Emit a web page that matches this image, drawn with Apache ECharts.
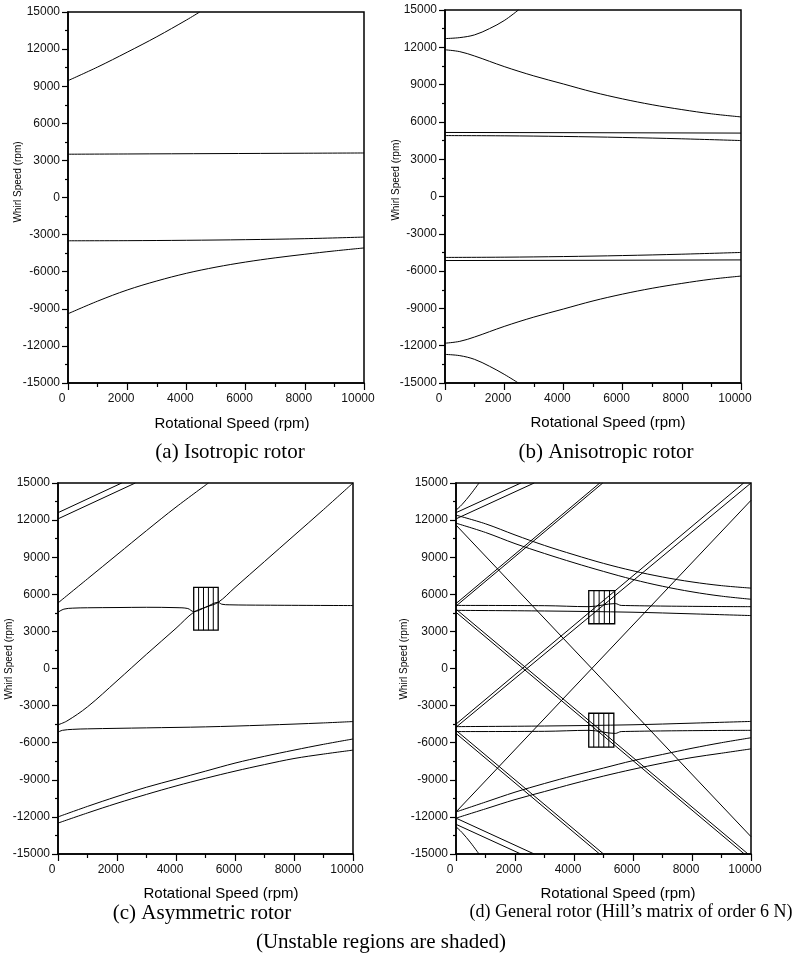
<!DOCTYPE html>
<html><head><meta charset="utf-8">
<script src="https://cdn.jsdelivr.net/npm/echarts@6/dist/echarts.min.js"></script>
<style>html,body{margin:0;padding:0;background:#fff}#c{width:793px;height:960px}</style>
</head><body><div id="c"></div>
<script>
// ---- axis ticks ----
const xTicks = [0, 2000, 4000, 6000, 8000, 10000];
const yTicks = [-15000, -12000, -9000, -6000, -3000, 0, 3000, 6000, 9000, 12000, 15000];

// ---- (a) Isotropic rotor ----
const aFwd2 = [[0,9450],[1000,10550],[2000,11750],[3000,13000],[4000,14350],[4450,15000]];
const aFwd1 = [[0,3500],[2000,3520],[5000,3550],[8000,3580],[10000,3600]];
const aBwd1 = [[0,-3500],[2000,-3490],[4000,-3460],[6000,-3410],[8000,-3330],[10000,-3200]];
const aBwd2 = [[0,-9400],[1000,-8380],[2000,-7480],[3000,-6750],[4000,-6130],[5000,-5630],[6000,-5220],[7000,-4880],[8000,-4590],[9000,-4320],[10000,-4080]];

// ---- (b) Anisotropic rotor ----
const bTop = [[0,12700],[500,12780],[1000,13000],[1500,13500],[2000,14150],[2480,15000]];
const bHigh = [[0,11800],[500,11650],[1000,11300],[2000,10450],[3000,9700],[4000,9050],[5000,8400],[6000,7850],[7000,7380],[8000,6990],[9000,6650],[10000,6400]];
const bFlatU = [[0,5150],[5000,5130],[10000,5100]];
const bFlatL = [[0,4900],[2000,4880],[4000,4830],[6000,4750],[8000,4640],[10000,4500]];
const bFlatUn = [[0,-4900],[2000,-4880],[4000,-4830],[6000,-4750],[8000,-4640],[10000,-4500]];
const bFlatLn = [[0,-5150],[5000,-5130],[10000,-5100]];
const bLowN = [[0,-11800],[500,-11650],[1000,-11300],[2000,-10450],[3000,-9700],[4000,-9050],[5000,-8400],[6000,-7850],[7000,-7380],[8000,-6990],[9000,-6650],[10000,-6400]];
const bBot = [[0,-12700],[500,-12800],[1000,-13100],[1500,-13650],[2000,-14300],[2480,-15000]];

// ---- (c) Asymmetric rotor ----
const cTop1 = [[0,12600],[2160,15000]];
const cTop2 = [[0,12100],[2620,15000]];
const cRise = [[0,5300],[1000,7250],[2000,9200],[3000,11150],[4000,13050],[5100,15000]];
const cDiag = [[0,-4550],[300,-4250],[1000,-3100],[2000,-1000],[3000,1150],[4000,3250],[4600,4550],[5000,4950],[5430,5350],[6000,6550],[7000,8650],[8000,10750],[9000,12850],[10000,15000]];
const cFlat = [[0,4550],[200,4800],[500,4880],[1000,4910],[2000,4930],[3000,4950],[4000,4920],[4400,4850],[4600,4600],[5000,4950],[5430,5350],[5550,5200],[5800,5150],[7000,5120],[10000,5090]];
const cBwd = [[0,-5150],[150,-5000],[500,-4920],[1000,-4880],[3000,-4800],[5000,-4720],[7000,-4580],[9000,-4400],[10000,-4290]];
const cLow1 = [[0,-12000],[1000,-11150],[2000,-10350],[3000,-9600],[4000,-8950],[5000,-8300],[6000,-7650],[7000,-7100],[8000,-6600],[9000,-6130],[10000,-5700]];
const cLow2 = [[0,-12500],[1000,-11680],[2000,-10900],[3000,-10180],[4000,-9500],[5000,-8880],[6000,-8300],[7000,-7770],[8000,-7280],[9000,-6920],[10000,-6600]];
const cUnstable = [[4600,5430,3100,6560,5]];

// ---- (d) General rotor ----
const dSteepUp = [[0,12800],[200,13250],[500,14100],[780,15000]];
const dUp1 = [[0,12600],[2200,15000]];
const dUp2 = [[0,12100],[2650,15000]];
const dDesc1 = [[0,12400],[1000,11700],[2000,10800],[3000,9950],[4000,9200],[5000,8500],[6000,7900],[7000,7400],[8000,7000],[9000,6700],[10000,6500]];
const dDesc2 = [[0,11750],[1000,11000],[2000,10100],[3000,9300],[4000,8550],[5000,7850],[6000,7200],[7000,6650],[8000,6200],[9000,5850],[10000,5600]];
const dLineDown = [[0,11600],[10000,-13600]];
const dLineUp = [[0,-11600],[10000,13600]];
const dRiseA = [[0,5250],[4875,15000]];
const dRiseB = [[0,5050],[4975,15000]];
const dDiagA = [[0,-4500],[9750,15000]];
const dDiagB = [[0,-4750],[10000,15000]];
const dFallA = [[0,4800],[9900,-15000]];
const dFallB = [[0,4550],[9775,-15000]];
const dFallC = [[0,-5000],[5000,-15000]];
const dFallD = [[0,-5250],[4870,-15000]];
const dSteepDn = [[0,-12800],[200,-13250],[500,-14100],[780,-15000]];
const dDn1 = [[0,-12600],[2200,-15000]];
const dDn2 = [[0,-12100],[2650,-15000]];
const dLow1 = [[0,-11600],[1000,-10800],[2000,-10000],[3000,-9300],[4000,-8650],[5000,-8050],[6000,-7450],[7000,-6950],[8000,-6450],[9000,-6000],[10000,-5600]];
const dLow2 = [[0,-12100],[1000,-11350],[2000,-10600],[3000,-9950],[4000,-9300],[5000,-8700],[6000,-8150],[7000,-7650],[8000,-7200],[9000,-6850],[10000,-6500]];
const dFlat1 = [[0,5100],[3000,5080],[4500,5000],[5400,5250],[5600,5100],[10000,5000]];
const dFlat2 = [[0,4700],[3000,4650],[6000,4550],[8000,4420],[10000,4280]];
const dFlat3 = [[0,-4700],[3000,-4650],[6000,-4550],[8000,-4420],[10000,-4280]];
const dFlat4 = [[0,-5100],[3000,-5080],[4500,-5000],[5400,-5250],[5600,-5100],[10000,-5000]];
const dUnstable = [[4500,5380,3620,6300,5],[4500,5350,-6360,-3620,5]];

const panels = [
  {grid:{left:68,top:12,width:296,height:371}, curves:[aFwd2,aFwd1,aBwd1,aBwd2], boxes:[]},
  {grid:{left:445,top:10,width:296,height:373}, curves:[bTop,bHigh,bFlatU,bFlatL,bFlatUn,bFlatLn,bLowN,bBot], boxes:[]},
  {grid:{left:58,top:483,width:295,height:371}, curves:[cTop1,cTop2,cRise,cDiag,cFlat,cBwd,cLow1,cLow2], boxes:cUnstable},
  {grid:{left:456,top:483,width:295,height:371}, curves:[dSteepUp,dUp1,dUp2,dDesc1,dDesc2,dLineDown,dLineUp,dRiseA,dRiseB,dDiagA,dDiagB,dFallA,dFallB,dFallC,dFallD,dSteepDn,dDn1,dDn2,dLow1,dLow2,dFlat1,dFlat2,dFlat3,dFlat4], boxes:dUnstable}
];

const texts = [
  {t:'Rotational Speed (rpm)', x:232, y:424, f:'15px "Liberation Sans", Arial, sans-serif'},
  {t:'Rotational Speed (rpm)', x:608, y:423, f:'15px "Liberation Sans", Arial, sans-serif'},
  {t:'Rotational Speed (rpm)', x:221, y:894, f:'15px "Liberation Sans", Arial, sans-serif'},
  {t:'Rotational Speed (rpm)', x:618, y:894, f:'15px "Liberation Sans", Arial, sans-serif'},
  {t:'Whirl Speed (rpm)', x:18, y:182, f:'10px "Liberation Sans", Arial, sans-serif', r:true},
  {t:'Whirl Speed (rpm)', x:396, y:180, f:'10px "Liberation Sans", Arial, sans-serif', r:true},
  {t:'Whirl Speed (rpm)', x:9, y:659, f:'10px "Liberation Sans", Arial, sans-serif', r:true},
  {t:'Whirl Speed (rpm)', x:404, y:659, f:'10px "Liberation Sans", Arial, sans-serif', r:true},
  {t:'(a) Isotropic rotor', x:230, y:452, f:'21px "Liberation Serif", "Times New Roman", serif'},
  {t:'(b) Anisotropic rotor', x:606, y:452, f:'21px "Liberation Serif", "Times New Roman", serif'},
  {t:'(c) Asymmetric rotor', x:202, y:913, f:'21px "Liberation Serif", "Times New Roman", serif'},
  {t:'(d) General rotor (Hill\u2019s matrix of order 6 N)', x:631, y:912, f:'18px "Liberation Serif", "Times New Roman", serif'},
  {t:'(Unstable regions are shaded)', x:381, y:942, f:'21px "Liberation Serif", "Times New Roman", serif'}
];

const grids = [], xAxes = [], yAxes = [], series = [];
panels.forEach((p, i) => {
  grids.push(Object.assign({show:true, borderColor:'#000', borderWidth:1.5, backgroundColor:'transparent', outerBoundsMode:'none', containLabel:false}, p.grid));
  xAxes.push({
    type:'value', gridIndex:i, min:xTicks[0], max:xTicks[xTicks.length-1], interval:xTicks[1]-xTicks[0],
    axisLine:{show:true, onZero:false, lineStyle:{color:'#000', width:1.6}},
    axisTick:{show:true, length:7, lineStyle:{color:'#000', width:1.2}},
    minorTick:{show:true, splitNumber:2, length:4, lineStyle:{color:'#000', width:1.2}},
    splitLine:{show:false},
    axisLabel:{fontSize:12, fontFamily:'"Liberation Sans", Arial, sans-serif', color:'#111', margin:10, padding:[0,12,0,0], formatter:v=>String(v)}
  });
  yAxes.push({
    type:'value', gridIndex:i, min:yTicks[0], max:yTicks[yTicks.length-1], interval:yTicks[1]-yTicks[0],
    axisLine:{show:true, onZero:false, lineStyle:{color:'#000', width:1.6}},
    axisTick:{show:true, length:6, lineStyle:{color:'#000', width:1.2}},
    minorTick:{show:true, splitNumber:2, length:3, lineStyle:{color:'#000', width:1.2}},
    splitLine:{show:false},
    axisLabel:{fontSize:12, fontFamily:'"Liberation Sans", Arial, sans-serif', color:'#111', margin:8, formatter:v=>String(v)}
  });
  p.curves.forEach(c => series.push({
    type:'line', xAxisIndex:i, yAxisIndex:i, data:c, showSymbol:false, symbol:'none',
    smooth:c.length > 3 ? 0.35 : false, lineStyle:{color:'#000', width:1}, silent:true, animation:false, clip:true
  }));
  if (p.boxes.length) series.push({
    type:'custom', xAxisIndex:i, yAxisIndex:i, data:p.boxes, encode:{x:[0,1], y:[2,3]}, silent:true, animation:false,
    renderItem:(params, api) => {
      const x0 = api.value(0), x1 = api.value(1), y0 = api.value(2), y1 = api.value(3), n = api.value(4);
      const tl = api.coord([x0, y1]), br = api.coord([x1, y0]);
      const ch = [{type:'rect', shape:{x:tl[0], y:tl[1], width:br[0]-tl[0], height:br[1]-tl[1]}, style:{fill:null, stroke:'#000', lineWidth:1.3}}];
      for (let k = 1; k < n; k++) {
        const px = tl[0] + (br[0]-tl[0]) * k / n;
        ch.push({type:'line', shape:{x1:px, y1:tl[1], x2:px, y2:br[1]}, style:{stroke:'#000', lineWidth:1}});
      }
      return {type:'group', children:ch};
    }
  });
});

const graphic = texts.map(t => ({
  type:'text', x:t.x, y:t.y, rotation:t.r ? Math.PI/2 : 0, silent:true,
  style:{text:t.t, font:t.f, fill:'#000', align:'center', verticalAlign:'middle', textAlign:'center', textVerticalAlign:'middle'}
}));

const chart = echarts.init(document.getElementById('c'), null, {renderer:'canvas'});
chart.setOption({backgroundColor:'#fff', animation:false, grid:grids, xAxis:xAxes, yAxis:yAxes, series, graphic});
</script></body></html>
